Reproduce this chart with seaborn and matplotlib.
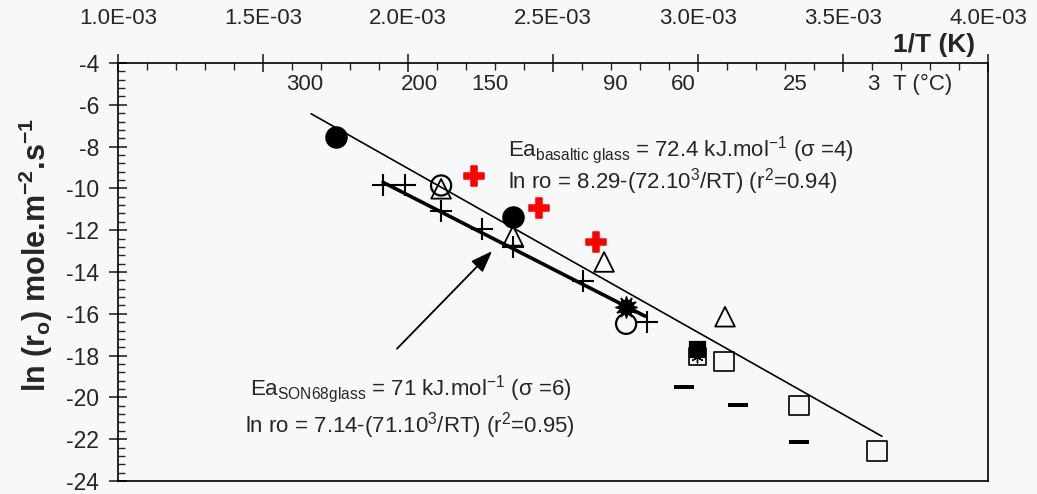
import numpy as np
import pandas as pd
import matplotlib
matplotlib.use("Agg")
import matplotlib.pyplot as plt
from matplotlib.ticker import MultipleLocator, FuncFormatter
from matplotlib.path import Path
import seaborn as sns

# ---- data: x = 1/T (K^-1), y = ln(r0) ----
filled_circle_x = [1.752e-3, 2.362e-3]
filled_circle_y = [-7.52, -11.38]

open_circle_x = [2.114e-3, 2.752e-3]
open_circle_y = [-9.86, -16.48]

triangle_x = [2.114e-3, 2.362e-3, 2.676e-3, 3.093e-3]
triangle_y = [-10.02, -12.27, -13.52, -16.14]

plus_x = [1.914e-3, 1.990e-3, 2.114e-3, 2.255e-3, 2.362e-3, 2.603e-3, 2.824e-3]
plus_y = [-9.86, -9.86, -11.10, -11.95, -12.81, -14.43, -16.38]

red_x = [2.228e-3, 2.452e-3, 2.648e-3]
red_y = [-9.43, -10.95, -12.57]

square_x = [3.090e-3, 3.348e-3, 3.617e-3]
square_y = [-18.29, -20.38, -22.57]

dash_x = [2.952e-3, 3.138e-3, 3.348e-3]
dash_y = [-19.52, -20.38, -22.14]

star_x = [2.752e-3]
star_y = [-15.67]

filled_square_x = [2.997e-3]
filled_square_y = [-17.67]

hatched_square_x = [2.997e-3]
hatched_square_y = [-18.05]

# regression lines (end points)
basalt_line_x = [1.666e-3, 3.634e-3]
basalt_line_y = [-6.43, -21.86]
son68_line_x = [1.914e-3, 2.817e-3]
son68_line_y = [-9.71, -16.11]

# temperature scale labels (°C) and their 1/T positions
celsius_labels = ["300", "200", "150", "90", "60", "25", "3"]
celsius_pos = [1.645e-3, 2.041e-3, 2.283e-3, 2.714e-3, 2.948e-3, 3.334e-3, 3.603e-3]

sns.set_style("ticks")
plt.rcParams["font.family"] = ["Liberation Sans", "DejaVu Sans"]
plt.rcParams["mathtext.fontset"] = "custom"
plt.rcParams["mathtext.rm"] = "Liberation Sans"
plt.rcParams["mathtext.it"] = "Liberation Sans:italic"
plt.rcParams["mathtext.bf"] = "Liberation Sans:bold"
plt.rcParams["axes.unicode_minus"] = False

bg = "#f7f8fa"
fig = plt.figure(figsize=(10.37, 4.94), dpi=100, facecolor=bg)
ax = fig.add_axes([0.1138, 0.0263, 0.8390, 0.8462])
ax.set_facecolor(bg)

# lines
sns.lineplot(x=basalt_line_x, y=basalt_line_y, color="black", lw=1.2, ax=ax)
sns.lineplot(x=son68_line_x, y=son68_line_y, color="black", lw=2.6, ax=ax)

# markers
sns.scatterplot(x=filled_circle_x, y=filled_circle_y, marker="o", s=225,
                color="black", edgecolor="black", ax=ax, zorder=5)
sns.scatterplot(x=open_circle_x, y=open_circle_y, marker="o", s=210,
                facecolor="none", edgecolor="black", linewidth=1.6, ax=ax, zorder=5)
sns.scatterplot(x=triangle_x, y=triangle_y, marker="^", s=200,
                facecolor="none", edgecolor="black", linewidth=1.3, ax=ax, zorder=5)
sns.scatterplot(x=plus_x, y=plus_y, marker="+", s=250,
                color="black", linewidth=1.5, ax=ax, zorder=5)
sns.scatterplot(x=red_x, y=red_y, marker="P", s=190,
                color="#ff0000", edgecolor="#ff0000", ax=ax, zorder=5)
sns.scatterplot(x=square_x, y=square_y, marker="s", s=200,
                facecolor="none", edgecolor="black", linewidth=1.2, ax=ax, zorder=5)

dash_marker = Path([(-1, -0.22), (1, -0.22), (1, 0.22), (-1, 0.22), (-1, -0.22)],
                   [Path.MOVETO, Path.LINETO, Path.LINETO, Path.LINETO, Path.CLOSEPOLY])
sns.scatterplot(x=dash_x, y=dash_y, marker=dash_marker, s=200,
                color="black", edgecolor="black", linewidth=0, ax=ax, zorder=5)
sns.scatterplot(x=star_x, y=star_y, marker=(12, 1, 0), s=230,
                color="black", edgecolor="black", ax=ax, zorder=6)
sns.scatterplot(x=star_x, y=star_y, marker="o", s=110,
                color="black", edgecolor="black", ax=ax, zorder=6)
sns.scatterplot(x=hatched_square_x, y=hatched_square_y, marker="s", s=150,
                facecolor="none", edgecolor="black", linewidth=1.2, ax=ax, zorder=5)
sns.scatterplot(x=hatched_square_x, y=hatched_square_y, marker=(6, 2, 0), s=60,
                color="black", linewidth=1.0, ax=ax, zorder=5)
sns.scatterplot(x=filled_square_x, y=filled_square_y, marker="s", s=120,
                color="black", edgecolor="black", ax=ax, zorder=6)

# axes
ax.set_xlim(1.0e-3, 4.0e-3)
ax.set_ylim(-24, -4)
ax.xaxis.set_ticks_position("top")
ax.xaxis.set_major_locator(MultipleLocator(0.5e-3))
ax.xaxis.set_minor_locator(MultipleLocator(0.1e-3))
ax.xaxis.set_major_formatter(FuncFormatter(lambda v, p: f"{v:.1E}"))
ax.yaxis.set_major_locator(MultipleLocator(2))
ax.yaxis.set_minor_locator(MultipleLocator(0.4))
ax.yaxis.set_major_formatter(FuncFormatter(lambda v, p: f"{v:.0f}"))

ax.tick_params(axis="x", which="major", direction="inout", length=13, width=1.2,
               pad=18, labelsize=16, top=True, bottom=False)
ax.tick_params(axis="x", which="minor", direction="in", length=5, width=1.0,
               top=True, bottom=False)
ax.tick_params(axis="y", which="major", direction="inout", length=13, width=1.2,
               pad=7, labelsize=16.5, left=True, right=False)
ax.tick_params(axis="y", which="minor", direction="in", length=5, width=1.0,
               left=True, right=False)
for sp in ax.spines.values():
    sp.set_linewidth(1.2)
    sp.set_color("black")

ax.set_xlabel("")
ax.set_ylabel(r"ln (r$_{\mathbf{o}}$) mole.m$^{\mathbf{-2}}$.s$^{\mathbf{-1}}$",
              fontsize=22, fontweight="bold")
ax.yaxis.set_label_coords(-0.072, 0.54)

ax.text(3.955e-3, -3.15, "1/T (K)", fontsize=19, fontweight="bold",
        ha="right", va="center", clip_on=False)

for lab, xp in zip(celsius_labels, celsius_pos):
    ax.text(xp, -5.05, lab, fontsize=16, ha="center", va="center")
ax.text(3.775e-3, -5.05, "T (°C)", fontsize=16, ha="center", va="center")

# fit annotations
ax.text(2.345e-3, -8.15,
        r"Ea$_{\mathrm{basaltic\ glass}}$ = 72.4 kJ.mol$^{\mathrm{-1}}$ (σ =4)",
        fontsize=16, ha="left", va="center")
ax.text(2.345e-3, -9.65,
        r"ln ro = 8.29-(72.10$^{3}$/RT) (r$^{2}$=0.94)",
        fontsize=16, ha="left", va="center")
ax.text(1.455e-3, -19.6,
        r"Ea$_{\mathrm{SON68glass}}$ = 71 kJ.mol$^{\mathrm{-1}}$ (σ =6)",
        fontsize=16, ha="left", va="center")
ax.text(1.438e-3, -21.35,
        r"ln ro = 7.14-(71.10$^{3}$/RT) (r$^{2}$=0.95)",
        fontsize=16, ha="left", va="center")

ax.annotate("", xy=(2.290e-3, -13.0), xytext=(1.962e-3, -17.67),
            arrowprops=dict(arrowstyle="-|>,head_length=0.6,head_width=0.22",
                            color="black", lw=1.3,
                            mutation_scale=22, shrinkA=0, shrinkB=0))

fig.savefig("out.png", dpi=100, facecolor=bg)
